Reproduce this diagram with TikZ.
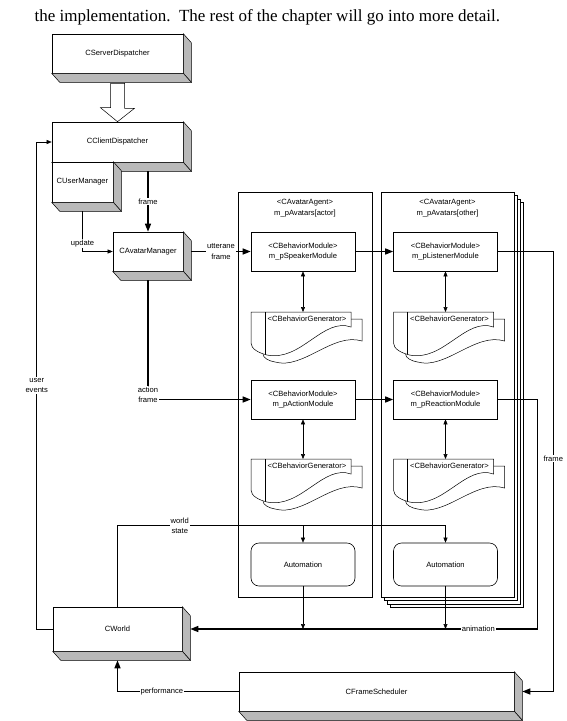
\documentclass[tikz,border=0pt]{standalone}
\usepackage{fontspec}
\setmainfont{Liberation Serif}
\setsansfont{Liberation Sans}
\usetikzlibrary{arrows.meta,calc}

% grey side faces of a 3-D block
\newcommand{\slab}[1]{%
  \filldraw[fill=gray!55, line width=0.5pt] (#1.north east) -- ++(8,9) -- ($(#1.south east)+(8,9)$) -- (#1.south east) -- cycle;
  \filldraw[fill=gray!55, line width=0.5pt] (#1.south west) -- ++(8,9) -- ($(#1.south east)+(8,9)$) -- (#1.south east) -- cycle;}

% behaviour generator: top left x, y, node name
\newcommand{\behgen}[3]{%
  \begin{scope}[shift={(#1,#2)}, line width=0.5pt]
    \draw[fill=white] (12,7) -- (111,7) -- (111,29) .. controls (82,20) and (52,58) .. (24,50)
      .. controls (18,49) and (12,46) .. (12,42) -- cycle;
    \draw[fill=white] (0,0) -- (100,0) -- (100,15) .. controls (72,5) and (50,50) .. (16,43)
      .. controls (8,41) and (0,37) .. (0,31) -- cycle;
    \clip (0,0) -- (100,0) -- (100,15) .. controls (72,5) and (50,50) .. (16,43)
      .. controls (8,41) and (0,37) .. (0,31) -- cycle;
    \draw (14,0) -- (14,60);
  \end{scope}
  \node[anchor=north, inner sep=4pt] (#3) at (#1+56,#2) {<CBehaviorGenerator>};}

\begin{document}
\begin{tikzpicture}[x=1pt, y=-1pt, >={Triangle[length=8pt,width=6pt]},
    every node/.style={font=\sffamily\fontsize{7.6}{10.5}\selectfont},
    block/.style={draw, fill=white, line width=0.6pt, inner sep=0pt, align=center},
    module/.style={draw, fill=white, line width=0.6pt, minimum width=104pt, minimum height=39pt, align=center},
    autobox/.style={draw, fill=white, line width=0.6pt, rounded corners=8pt, minimum width=104pt, minimum height=43pt},
    agent/.style={draw, fill=white, line width=0.6pt, minimum width=134pt, minimum height=405pt},
    flow/.style={line width=1.3pt, ->},
    sig/.style={line width=0.5pt, -{Triangle[length=5pt,width=4pt]}},
    twoway/.style={line width=0.5pt, {Triangle[length=5pt,width=4pt]}-{Triangle[length=5pt,width=4pt]}},
    lbl/.style={fill=white, inner sep=1pt, align=center}]
    \useasboundingbox (0,0) rectangle (567,721);

    \node[anchor=base west, font=\rmfamily\fontsize{17}{20}\selectfont] (intro) at (31,21)
        {the implementation.\ \ The rest of the chapter will go into more detail.};

    % client side
    \node[block, minimum width=131pt, minimum height=39pt] (server) at (117.5,53.5) {CServerDispatcher};
    \slab{server}
    \node[block, minimum width=131pt, minimum height=40pt] (client) at (117.5,142) {CClientDispatcher};
    \slab{client}
    \draw[fill=white, line width=0.5pt] ($(server.south)+(-7,10)$) -- ++(14,0) -- ++(0,25) -- ++(10,0)
        -- (client.north) -- ++(-17,-14) -- ++(10,0) -- cycle;
    \node[block, minimum width=61pt, minimum height=40pt] (usermgr) at (82.5,182) {CUserManager};
    \slab{usermgr}
    \node[block, minimum width=70pt, minimum height=39pt] (avmgr) at (148,251.5) {CAvatarManager};
    \slab{avmgr}

    % avatar agents
    \node[agent] (actor) at (305,394.5) {};
    \node[align=center] (actorhead) at (305,208) {<CAvatarAgent>\\m\_pAvatars[actor]};
    \foreach \k in {3,2,1}
        \draw[fill=white, line width=0.6pt] (381+3*\k,192+3.5*\k) rectangle ++(133,405);
    \node[agent, minimum width=133pt] (other) at (447.5,394.5) {};
    \node[align=center] (otherhead) at (447.5,208) {<CAvatarAgent>\\m\_pAvatars[other]};

    \node[module] (speaker) at (303,251.5) {<CBehaviorModule>\\m\_pSpeakerModule};
    \node[module] (listener) at (445.5,251.5) {<CBehaviorModule>\\m\_pListenerModule};
    \node[module] (action) at (303,399.5) {<CBehaviorModule>\\m\_pActionModule};
    \node[module] (reaction) at (445.5,399.5) {<CBehaviorModule>\\m\_pReactionModule};
    \behgen{251}{312}{gena}
    \behgen{393.5}{312}{genb}
    \behgen{251}{459}{genc}
    \behgen{393.5}{459}{gend}
    \node[autobox] (autoa) at (303,564.5) {Automation};
    \node[autobox] (autob) at (445.5,564.5) {Automation};

    % world and scheduler
    \node[block, minimum width=129pt, minimum height=44pt] (world) at (117.5,629) {CWorld};
    \slab{world}
    \node[block, minimum width=275pt, minimum height=39pt] (sched) at (376.5,691.5) {CFrameScheduler};
    \slab{sched}

    % connectors
    \draw[flow] ($(avmgr.north |- client.south)+(0,9)$) -- node[lbl]{frame} (avmgr.north);
    \draw[sig] ($(usermgr.south)+(0,9)$) |- node[lbl,pos=0.4]{update} (avmgr.west);
    \draw[flow] ($(avmgr.east)+(8,0)$) -- node[lbl]{utterane\\frame} (speaker.west);
    \draw[flow] ($(avmgr.south)+(0,9)$) |- node[lbl,pos=0.48]{action\\frame} (action.west);
    \draw[flow] (speaker.east) -- (listener.west);
    \draw[flow] (action.east) -- (reaction.west);
    \draw[twoway] (speaker.south) -- (speaker.south |- gena.north);
    \draw[twoway] (listener.south) -- (listener.south |- genb.north);
    \draw[twoway] (action.south) -- (action.south |- genc.north);
    \draw[twoway] (reaction.south) -- (reaction.south |- gend.north);
    \draw[flow] (listener.east) -- ++(55.5,0) |- node[lbl,pos=0.235]{frame} ($(sched.east)+(8,0)$);
    \draw[flow] (reaction.east) -- ++(39.5,0) |- node[lbl,pos=0.585]{animation} ($(world.east)+(8,0)$);
    \draw[sig] (autoa.south) -- (autoa.south |- world.east);
    \draw[sig] (autob.south) -- (autob.south |- world.east);
    \draw[sig] (world.north) |- node[lbl,pos=0.595]{world\\state} ($(autob.north)+(0,-17)$) -- (autob.north);
    \draw[sig] ($(autoa.north)+(0,-17)$) -- (autoa.north);
    \draw[sig] (world.west) -- ++(-16,0) |- node[lbl,pos=0.25]{user\\events} (client.west);
    \draw[flow] (sched.west) -| node[lbl,pos=0.317]{performance} ($(world.south)+(0,9)$);
\end{tikzpicture}
\end{document}
